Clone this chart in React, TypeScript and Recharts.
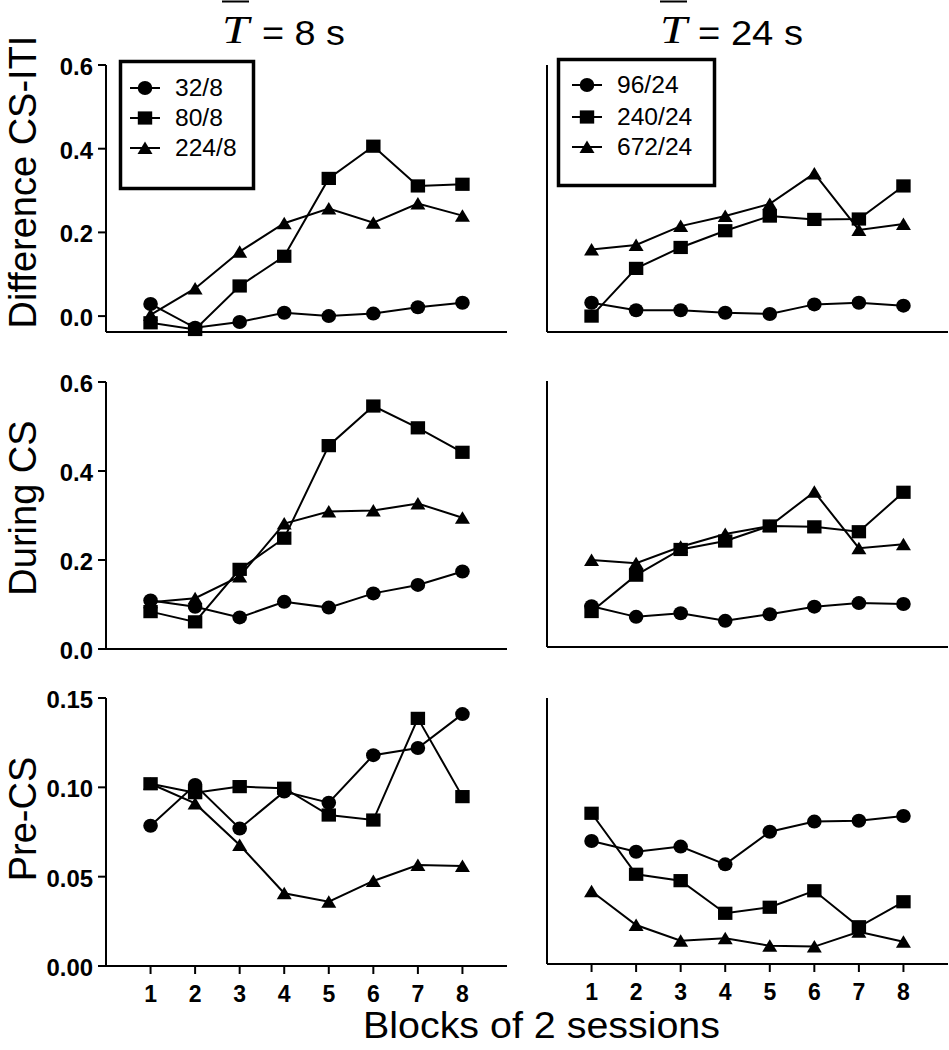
import { LineChart, Line, XAxis, YAxis } from "recharts"

// blocks of 2 sessions
const blocks = [1, 2, 3, 4, 5, 6, 7, 8]

// T = 8 s group
const diff32 = [0.029, -0.028, -0.014, 0.008, 0.0, 0.006, 0.021, 0.032]
const diff80 = [-0.016, -0.032, 0.072, 0.143, 0.329, 0.406, 0.311, 0.315]
const diff224 = [0.003, 0.066, 0.154, 0.222, 0.257, 0.223, 0.269, 0.24]
const cs32 = [0.109, 0.095, 0.071, 0.106, 0.093, 0.125, 0.144, 0.174]
const cs80 = [0.084, 0.061, 0.179, 0.249, 0.457, 0.546, 0.497, 0.442]
const cs224 = [0.105, 0.114, 0.163, 0.282, 0.309, 0.311, 0.327, 0.295]
const pre32 = [0.0785, 0.1013, 0.077, 0.0976, 0.0914, 0.118, 0.122, 0.141]
const pre80 = [0.102, 0.097, 0.1004, 0.0995, 0.0845, 0.0817, 0.1386, 0.0948]
const pre224 = [0.102, 0.091, 0.0677, 0.0407, 0.036, 0.0476, 0.0565, 0.056]

// T = 24 s group
const diff96 = [0.032, 0.014, 0.014, 0.008, 0.005, 0.028, 0.032, 0.025]
const diff240 = [0.0, 0.114, 0.164, 0.204, 0.239, 0.231, 0.232, 0.311]
const diff672 = [0.159, 0.17, 0.215, 0.239, 0.268, 0.341, 0.206, 0.22]
const cs96 = [0.092, 0.068, 0.076, 0.059, 0.074, 0.091, 0.099, 0.097]
const cs240 = [0.08, 0.162, 0.22, 0.239, 0.273, 0.271, 0.26, 0.349]
const cs672 = [0.196, 0.189, 0.226, 0.255, 0.273, 0.35, 0.223, 0.232]
const pre96 = [0.0694, 0.0633, 0.0662, 0.0562, 0.0746, 0.0803, 0.0808, 0.0835]
const pre240 = [0.085, 0.0506, 0.047, 0.0286, 0.032, 0.0413, 0.021, 0.0351]
const pre672 = [0.041, 0.022, 0.0131, 0.0145, 0.0103, 0.0098, 0.0182, 0.0126]

const shortNames = ["32/8", "80/8", "224/8"]
const longNames = ["96/24", "240/24", "672/24"]
const bigTicks = [0, 0.2, 0.4, 0.6]
const smallTicks = [0, 0.05, 0.1, 0.15]

const FONT = "'Liberation Sans', Arial, sans-serif"

const charW = (c: string) => (c === "." || c === "/" || c === " " ? 0.278 : c === "=" ? 0.584 : 0.556)
const textW = (s: string, fs: number) => [...s].reduce((a, c) => a + charW(c), 0) * fs

const makeRows = (a: number[], b: number[], c: number[]) =>
    blocks.map((block, i) => ({ block, c: a[i], s: b[i], t: c[i] }))

type Shape = "c" | "s" | "t"

function Marker({ shape, x, y }: { shape: Shape, x: number, y: number }) {
    if (shape === "c") return <ellipse cx={x} cy={y} rx={7.3} ry={7} fill="#000" />
    if (shape === "s") return <rect x={x - 7.2} y={y - 6.6} width={14.4} height={13.2} fill="#000" />
    return <polygon points={`${x},${y - 6.5} ${x + 7.5},${y + 6} ${x - 7.5},${y + 6}`} fill="#000" />
}

const dotFor = (shape: Shape) => (p: any) =>
    <Marker key={`${shape}-${p.index}`} shape={shape} x={p.cx} y={p.cy} />

function YTick(props: any) {
    const { x, y, payload, digits } = props
    const label = payload.value.toFixed(digits)
    return <text x={x - 3} y={y + 10} textAnchor="end" fontFamily={FONT} fontWeight="bold" fontSize={23}
        textLength={textW(label, 23) * 1.04} lengthAdjust="spacingAndGlyphs">{label}</text>
}

function XTick(props: any) {
    const { x, y, payload } = props
    const label = String(payload.value)
    return <text x={x} y={y + 26} textAnchor="middle" fontFamily={FONT} fontWeight="bold" fontSize={23}>{label}</text>
}

type PanelProps = {
    left: number, top: number, right: number, bottom: number, yw: number,
    rows: any[], yDomain: number[], yTicks: number[], digits: number,
    yLabels: boolean, xLabels: boolean,
}

function Panel({ left, top, right, bottom, yw, rows, yDomain, yTicks, digits, yLabels, xLabels }: PanelProps) {
    const MT = 20, MR = 1, XH = 50
    const w = right - left + yw + MR
    const h = bottom - top + MT + XH
    const axisStyle = { stroke: "#000", strokeWidth: 2 }
    return <div style={{ position: "absolute", left: left - yw, top: top - MT }}>
        <LineChart width={w} height={h} data={rows} margin={{ top: MT, right: MR, left: 0, bottom: 0 }}>
            <XAxis dataKey="block" type="number" domain={[0, 9]} ticks={blocks} interval={0} height={XH}
                axisLine={axisStyle} tickLine={axisStyle} tickSize={8}
                tick={xLabels ? <XTick /> : false} />
            <YAxis type="number" domain={yDomain} ticks={yTicks} interval={0} width={yw}
                axisLine={axisStyle} tickLine={axisStyle} tickSize={8}
                tick={yLabels ? <YTick digits={digits} /> : false} />
            {(["t", "c", "s"] as Shape[]).map(k =>
                <Line key={k} dataKey={k} stroke="#000" strokeWidth={2} dot={dotFor(k)} activeDot={false}
                    isAnimationActive={false} />
            )}
        </LineChart>
    </div>
}

function LegendBox({ x0, y0, w, h, lineX, textX, rows, names }: any) {
    const shapes: Shape[] = ["c", "s", "t"]
    return <g>
        <rect x={x0 + 1.5} y={y0 + 1.5} width={w - 3} height={h - 3} fill="#fff" stroke="#000" strokeWidth={3.5} />
        {shapes.map((s, i) => <g key={s}>
            <line x1={lineX} x2={lineX + 30} y1={rows[i]} y2={rows[i]} stroke="#000" strokeWidth={2} />
            <Marker shape={s} x={lineX + 15} y={rows[i]} />
            <text x={textX} y={rows[i] + 8} fontFamily={FONT} fontSize={23}
                textLength={textW(names[i], 23) * 1.07} lengthAdjust="spacingAndGlyphs">{names[i]}</text>
        </g>)}
    </g>
}

function Title({ tx, ex, ew, text }: { tx: number, ex: number, ew: number, text: string }) {
    return <g>
        <line x1={tx} x2={tx + 27} y1={1.5} y2={1.5} stroke="#000" strokeWidth={2} />
        <text x={tx} y={43} fontFamily="'Liberation Serif', 'Times New Roman', serif" fontStyle="italic" fontSize={40}
            textLength={27} lengthAdjust="spacingAndGlyphs">T</text>
        <text x={ex} y={45} fontFamily={FONT} fontSize={35} textLength={ew} lengthAdjust="spacingAndGlyphs">{text}</text>
    </g>
}

export default function App() {
    const L = { left: 106, right: 507, yw: 106 }
    const R = { left: 547, right: 948, yw: 60 }
    return <div style={{ position: "absolute", left: 0, top: 0, width: 949, height: 1050, overflow: "hidden", background: "#fff" }}>
        <Panel {...L} top={65} bottom={332} rows={makeRows(diff32, diff80, diff224)} yDomain={[-0.038, 0.6]}
            yTicks={bigTicks} digits={1} yLabels xLabels={false} />
        <Panel {...R} top={65} bottom={332} rows={makeRows(diff96, diff240, diff672)} yDomain={[-0.038, 0.6]}
            yTicks={bigTicks} digits={1} yLabels={false} xLabels={false} />
        <Panel {...L} top={382} bottom={649} rows={makeRows(cs32, cs80, cs224)} yDomain={[0, 0.6]}
            yTicks={bigTicks} digits={1} yLabels xLabels={false} />
        <Panel {...R} top={381} bottom={647} rows={makeRows(cs96, cs240, cs672)} yDomain={[0, 0.6]}
            yTicks={bigTicks} digits={1} yLabels={false} xLabels={false} />
        <Panel {...L} top={698} bottom={966} rows={makeRows(pre32, pre80, pre224)} yDomain={[0, 0.15]}
            yTicks={smallTicks} digits={2} yLabels xLabels />
        <Panel {...R} top={698} bottom={964} rows={makeRows(pre96, pre240, pre672)} yDomain={[0, 0.15]}
            yTicks={smallTicks} digits={2} yLabels={false} xLabels />

        <svg width={949} height={1050} style={{ position: "absolute", left: 0, top: 0, pointerEvents: "none" }}>
            <Title tx={222} ex={262} ew={83} text="= 8 s" />
            <Title tx={660} ex={698} ew={105} text="= 24 s" />

            <LegendBox x0={119} y0={60} w={136} h={130} lineX={130} textX={175} rows={[88, 118, 148]} names={shortNames} />
            <LegendBox x0={557} y0={58} w={159} h={129} lineX={572} textX={617} rows={[85, 117, 147]} names={longNames} />

            <text transform="translate(36,182) rotate(-90)" textAnchor="middle" fontFamily={FONT} fontSize={38}>Difference CS-ITI</text>
            <text transform="translate(36,508) rotate(-90)" textAnchor="middle" fontFamily={FONT} fontSize={38}>During CS</text>
            <text transform="translate(36,819) rotate(-90)" textAnchor="middle" fontFamily={FONT} fontSize={38}>Pre-CS</text>

            <text x={363} y={1038} fontFamily={FONT} fontSize={36} textLength={357} lengthAdjust="spacingAndGlyphs">Blocks of 2 sessions</text>
        </svg>
    </div>
}
